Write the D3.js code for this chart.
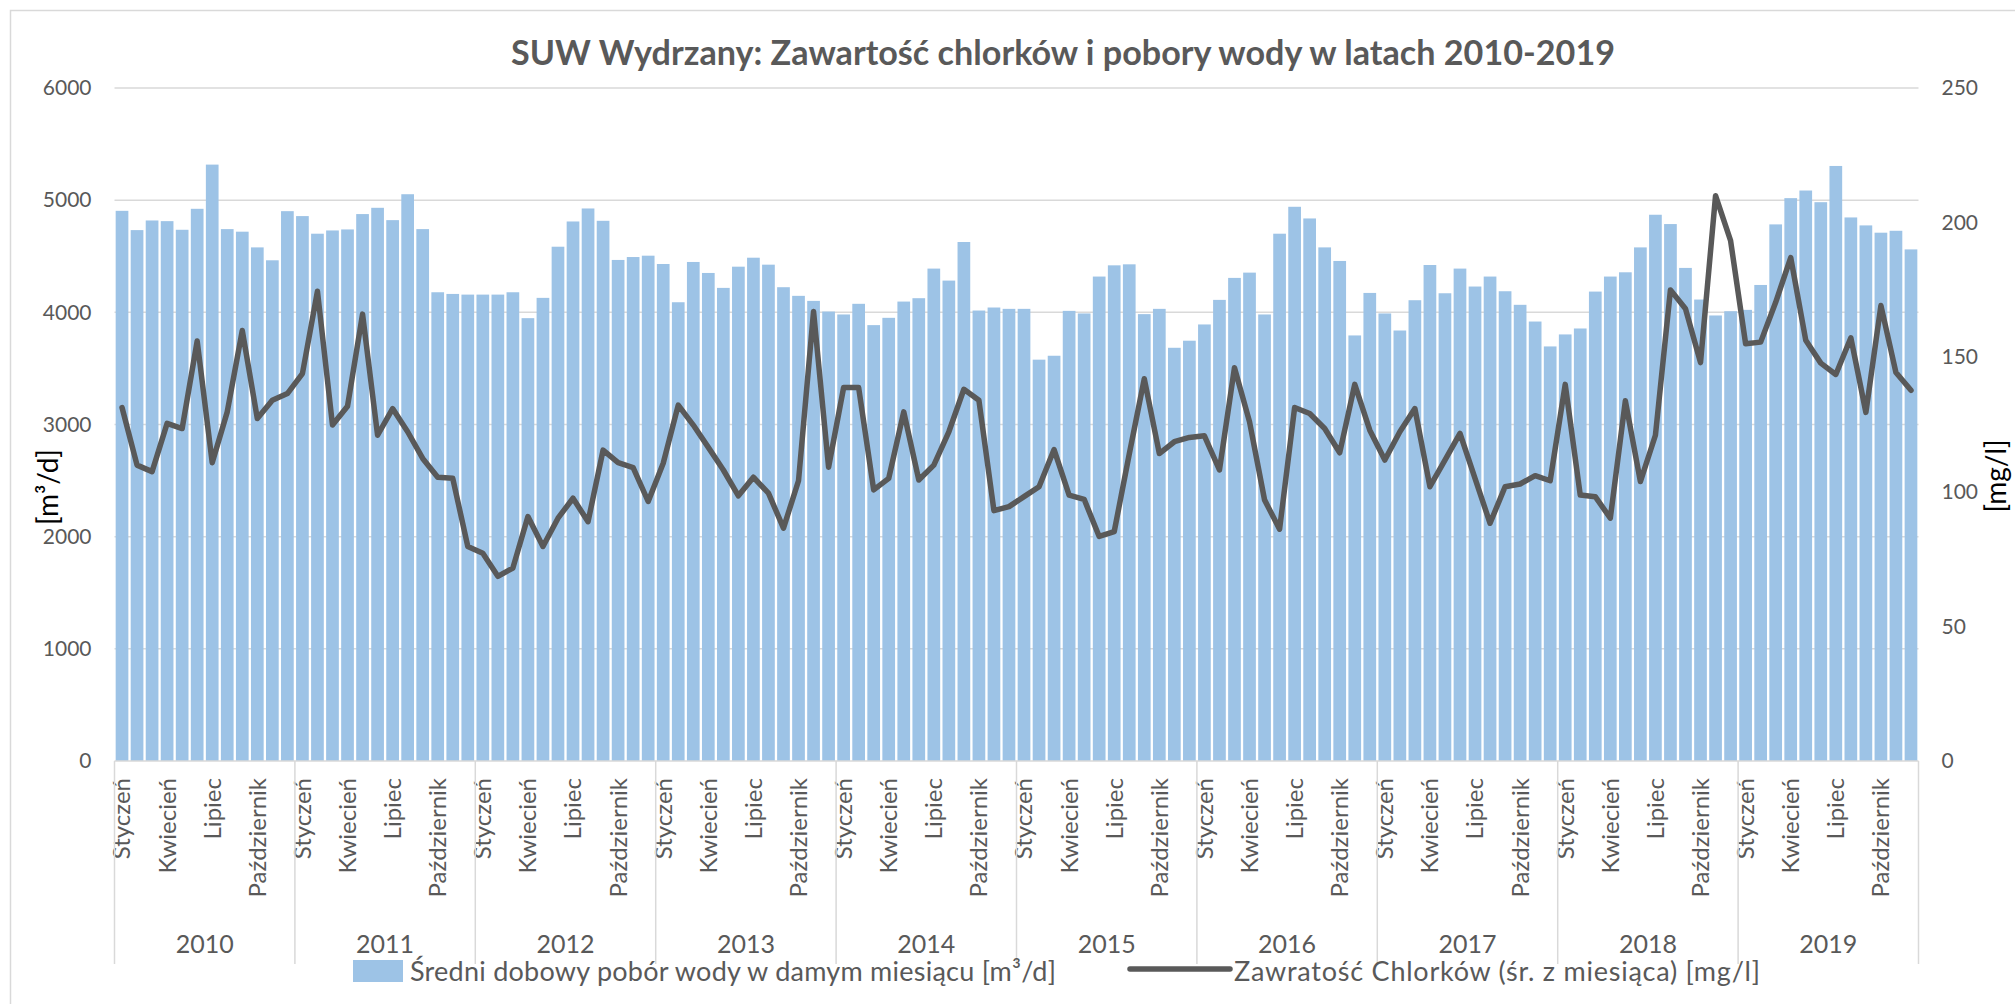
<!DOCTYPE html>
<html><head><meta charset="utf-8">
<script src="https://cdn.jsdelivr.net/npm/d3@7"></script>
<style>
body{margin:0;background:#fff}
svg{display:block}
text{font-family:Lato,"Open Sans",sans-serif}
</style>
</head><body>
<svg id="c" width="2015" height="1004"></svg>
<script>
const years = [2010,2011,2012,2013,2014,2015,2016,2017,2018,2019];
const months = ["Styczeń","Luty","Marzec","Kwiecień","Maj","Czerwiec","Lipiec","Sierpień","Wrzesień","Październik","Listopad","Grudzień"];
const shownMonths = ["Styczeń","Kwiecień","Lipiec","Październik"];
// Średni dobowy pobór wody [m3/d]
const pobor = [
 4905,4733,4819,4813,4736,4923,5317,4742,4719,4579,4464,4902,
 4858,4701,4730,4739,4876,4932,4822,5053,4742,4179,4164,4158,
 4158,4158,4179,3948,4129,4585,4810,4926,4816,4467,4493,4505,
 4431,4090,4449,4351,4218,4407,4487,4425,4224,4147,4102,4007,
 3981,4076,3886,3951,4096,4126,4390,4283,4627,4016,4043,4031,
 4031,3578,3613,4013,3990,4319,4419,4428,3984,4031,3684,3747,
 3892,4111,4307,4354,3981,4701,4941,4837,4579,4458,3794,4173,
 3990,3838,4108,4422,4170,4390,4230,4319,4188,4067,3918,3696,
 3803,3856,4185,4319,4357,4579,4870,4787,4396,4114,3972,4010,
 4022,4244,4784,5018,5086,4982,5305,4846,4775,4710,4727,4561
];
// Zawartość chlorków [mg/l]
const chlorki = [
 131.3,109.9,107.5,125.4,123.5,156.0,110.8,129.7,159.9,127.2,134.0,136.5,
 143.9,174.5,124.8,131.8,166.0,121.0,130.9,122.3,112.4,105.4,105.0,79.7,
 77.2,68.6,71.7,90.8,79.7,90.2,97.6,88.9,115.5,110.8,109.0,96.4,
 110.6,132.2,124.8,116.5,108.1,98.5,105.4,99.5,86.5,104.1,167.0,109.1,
 138.7,138.7,100.7,105.0,129.7,104.4,109.9,122.3,138.1,134.0,93.0,94.5,
 98.2,101.9,115.7,98.8,97.2,83.4,85.2,114.0,142.0,114.2,118.6,120.2,
 120.8,108.1,146.1,126.0,97.0,86.1,131.3,129.1,123.5,114.5,139.9,122.9,
 111.8,122.3,130.9,101.9,111.8,121.7,105.0,88.3,101.9,102.9,106.0,104.1,
 139.9,98.8,98.2,90.2,133.8,103.8,121.0,175.0,168.0,148.0,210.0,193.3,
 155.0,155.6,170.4,187.0,156.3,147.8,143.6,157.2,129.5,169.2,144.3,137.7
];
const leftTicks = [0,1000,2000,3000,4000,5000,6000];
const rightTicks = [0,50,100,150,200,250];
const title = "SUW Wydrzany: Zawartość chlorków i pobory wody w latach 2010-2019";
const leftTitle = "[m³/d]";
const rightTitle = "[mg/l]";
const legendBar = "Średni dobowy pobór wody w damym miesiącu [m³/d]";
const legendLine = "Zawratość Chlorków (śr. z miesiąca) [mg/l]";

const cats = [];
years.forEach(y => months.forEach((m, j) => cats.push({key: y + "-" + j, year: y, month: m})));

const svg = d3.select("#c");
const L = 114.5, R = 1918.5, T = 88, B = 761;
const x = d3.scaleBand().domain(cats.map(d => d.key)).range([L, R]).paddingInner(0.155).paddingOuter(0.0775);
const yL = d3.scaleLinear().domain([0, 6000]).range([B, T]);
const yR = d3.scaleLinear().domain([0, 250]).range([B, T]);
const grey = "#595959", grid = "#D9D9D9";

// chart border
svg.append("rect").attr("x", 10.5).attr("y", 10.5).attr("width", 2200).attr("height", 1200)
  .attr("fill", "none").attr("stroke", grid).attr("stroke-width", 1.5);

// title
svg.append("text").attr("x", 1063).attr("y", 65).attr("text-anchor", "middle")
  .attr("font-size", 34).attr("font-weight", 700).attr("fill", grey)
  .attr("textLength", 1104).attr("lengthAdjust", "spacingAndGlyphs").text(title);

// gridlines
svg.append("g").selectAll("line").data(leftTicks.filter(d => d > 0)).join("line")
  .attr("x1", L).attr("x2", R).attr("y1", d => yL(d)).attr("y2", d => yL(d))
  .attr("stroke", grid).attr("stroke-width", 1.5);

// bars
svg.append("g").selectAll("rect").data(cats).join("rect")
  .attr("x", d => x(d.key)).attr("width", x.bandwidth())
  .attr("y", (d, i) => yL(pobor[i])).attr("height", (d, i) => B - yL(pobor[i]))
  .attr("fill", "#9DC3E6");

// line
const line = d3.line().x((d, i) => x(cats[i].key) + x.bandwidth() / 2).y(d => yR(d));
svg.append("path").datum(chlorki).attr("d", line).attr("fill", "none")
  .attr("stroke", grey).attr("stroke-width", 5.5).attr("stroke-linejoin", "round").attr("stroke-linecap", "round");

// baseline
svg.append("line").attr("x1", L).attr("x2", R).attr("y1", B).attr("y2", B).attr("stroke", grid).attr("stroke-width", 1.5);

// left axis labels
const axL = d3.axisLeft(yL).tickValues(leftTicks).tickSize(0).tickPadding(23).tickFormat(d3.format("d"));
const gL = svg.append("g").attr("transform", `translate(${L},0)`).call(axL);
gL.select(".domain").remove();
gL.selectAll("text").attr("font-size", 21).attr("fill", grey).attr("font-family", "Lato");

// right axis labels
const axR = d3.axisRight(yR).tickValues(rightTicks).tickSize(0).tickPadding(23).tickFormat(d3.format("d"));
const gR = svg.append("g").attr("transform", `translate(${R},0)`).call(axR);
gR.select(".domain").remove();
gR.selectAll("text").attr("font-size", 21).attr("fill", grey).attr("font-family", "Lato");

// month labels
const mg = svg.append("g");
cats.forEach(d => {
  if (shownMonths.includes(d.month)) {
    const cx = x(d.key) + x.bandwidth() / 2, cy = 778;
    mg.append("text").attr("x", cx).attr("y", cy)
      .attr("transform", `rotate(-90,${cx},${cy})`)
      .attr("text-anchor", "end").attr("dy", "0.35em")
      .attr("font-size", 24).attr("fill", grey).text(d.month);
  }
});

// year dividers and labels
const step = x.step();
const yearStart = yr => x(yr + "-0") - (x.step() - x.bandwidth()) / 2;
const bounds = years.map(yearStart).concat([R]);
svg.append("g").selectAll("line").data(bounds).join("line")
  .attr("x1", d => d).attr("x2", d => d).attr("y1", B).attr("y2", 964)
  .attr("stroke", grid).attr("stroke-width", 1.5);
svg.append("g").selectAll("text").data(years).join("text")
  .attr("x", yr => yearStart(yr) + step * 6).attr("y", 953).attr("text-anchor", "middle")
  .attr("font-size", 25).attr("fill", grey).text(d => d);

// axis titles
svg.append("text").attr("transform", "translate(58,487) rotate(-90)").attr("text-anchor", "middle")
  .attr("font-size", 28).attr("fill", "#000").text(leftTitle);
svg.append("text").attr("transform", "translate(2006,476) rotate(-90)").attr("text-anchor", "middle")
  .attr("font-size", 28).attr("fill", "#000").text(rightTitle);

// legend
const lg = svg.append("g");
lg.append("rect").attr("x", 353).attr("y", 960).attr("width", 50).attr("height", 22).attr("fill", "#9DC3E6");
lg.append("text").attr("x", 410).attr("y", 981).attr("font-size", 27).attr("fill", grey)
  .attr("textLength", 646).attr("lengthAdjust", "spacing").text(legendBar);
lg.append("line").attr("x1", 1130).attr("x2", 1230).attr("y1", 969).attr("y2", 969)
  .attr("stroke", grey).attr("stroke-width", 5.5).attr("stroke-linecap", "round");
lg.append("text").attr("x", 1234).attr("y", 981).attr("font-size", 27).attr("fill", grey)
  .attr("textLength", 526).attr("lengthAdjust", "spacing").text(legendLine);
</script>
</body></html>
